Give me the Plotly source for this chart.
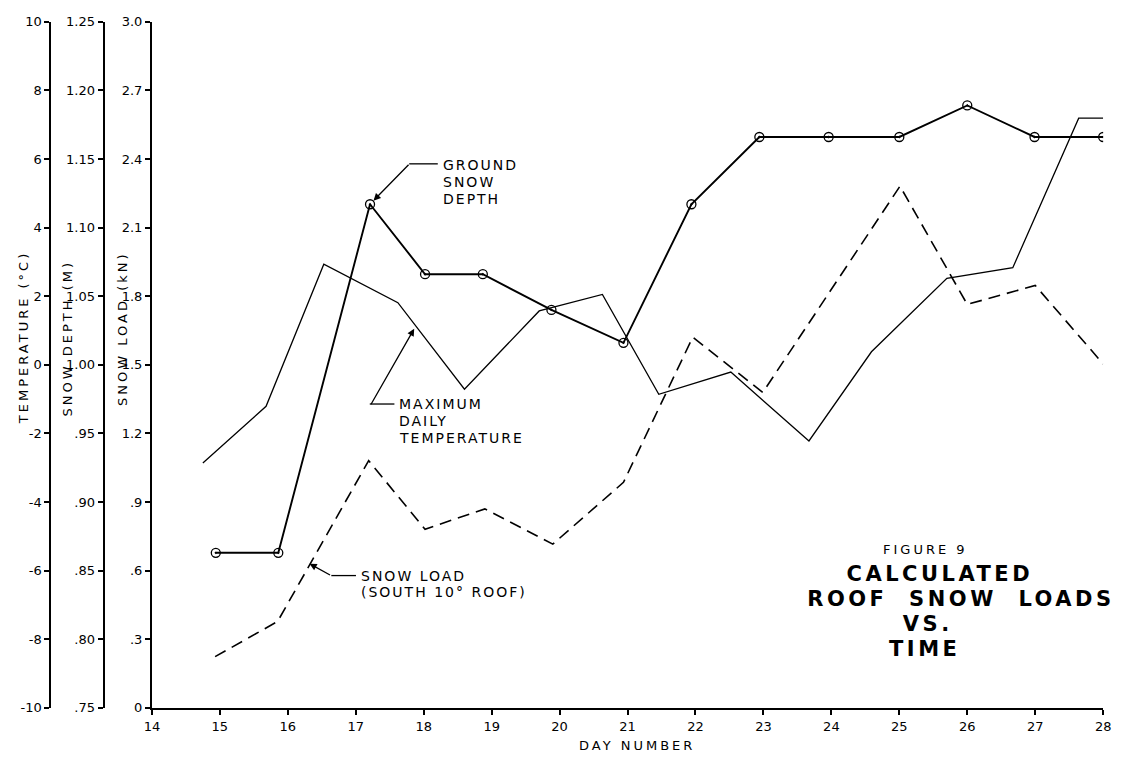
import json
import plotly.graph_objects as go

# ---- data ----
depth_days = [14.94, 15.86, 17.21, 18.02, 18.87, 19.88, 20.94, 21.94, 22.94, 23.96, 25.0, 26.0, 26.99, 28.0]
depth_m = [0.863, 0.863, 1.117, 1.066, 1.066, 1.040, 1.016, 1.117, 1.166, 1.166, 1.166, 1.189, 1.166, 1.166]

temp_days = [14.75, 15.68, 16.53, 17.62, 18.6, 19.7, 20.63, 21.46, 22.52, 23.67, 24.59, 25.7, 26.67, 27.64, 28.0]
temp_c = [-2.86, -1.21, 2.93, 1.81, -0.71, 1.57, 2.05, -0.86, -0.21, -2.22, 0.38, 2.52, 2.83, 7.19, 7.19]

load_days = [14.93, 15.85, 17.19, 18.02, 18.9, 19.9, 20.94, 21.96, 22.99, 25.01, 26.0, 27.0, 28.0]
load_kn = [0.224, 0.378, 1.081, 0.781, 0.87, 0.716, 0.986, 1.621, 1.379, 2.281, 1.764, 1.847, 1.504]

day_ticks = list(range(14, 29))
load_ticks = [0, 0.3, 0.6, 0.9, 1.2, 1.5, 1.8, 2.1, 2.4, 2.7, 3.0]
load_labels = ["0", ".3", ".6", ".9", "1.2", "1.5", "1.8", "2.1", "2.4", "2.7", "3.0"]
depth_ticks = [0.75, 0.80, 0.85, 0.90, 0.95, 1.00, 1.05, 1.10, 1.15, 1.20, 1.25]
depth_labels = [".75", ".80", ".85", ".90", ".95", "1.00", "1.05", "1.10", "1.15", "1.20", "1.25"]
temp_ticks = [-10, -8, -6, -4, -2, 0, 2, 4, 6, 8, 10]
temp_labels = ["-10", "-8", "-6", "-4", "-2", "0", "2", "4", "6", "8", "10"]

# ---- page geometry (pixels) ----
W, H = 1122, 761
PX_L, PX_R = 146, 1111      # plot area left/right
PX_T, PX_B = 15, 715        # plot area top/bottom
DEPTH_AX_X = 97
TEMP_AX_X = 43

def px(x):
    return x / W

def py(y):
    return 1 - y / H

FONT = "DejaVu Sans"
INK = "black"

fig = go.Figure()

fig.add_trace(go.Scatter(
    x=load_days, y=load_kn, xaxis="x", yaxis="y",
    mode="lines", line=dict(color=INK, width=1.6, dash="12px,7px"),
    name="Snow load", showlegend=False,
))
fig.add_trace(go.Scatter(
    x=temp_days, y=temp_c, xaxis="x", yaxis="y3",
    mode="lines", line=dict(color=INK, width=1.3),
    name="Maximum daily temperature", showlegend=False,
))
fig.add_trace(go.Scatter(
    x=depth_days, y=depth_m, xaxis="x", yaxis="y2",
    mode="lines+markers", line=dict(color=INK, width=1.9),
    marker=dict(symbol="circle-open-dot", size=9, color=INK, line=dict(width=1.3, color=INK)),
    name="Ground snow depth", showlegend=False,
))

tickfont = dict(family=FONT, size=13, color=INK)
common_axis = dict(showgrid=False, zeroline=False, showline=True, linecolor=INK,
                   linewidth=2, ticks="outside", ticklen=5, tickwidth=1.5,
                   tickcolor=INK, tickfont=tickfont, fixedrange=True,
                   ticklabeloverflow="allow")
inside_axis = dict(showgrid=False, zeroline=False, showline=False, ticks="inside",
                   ticklen=5, tickwidth=1.5, tickcolor=INK, showticklabels=False,
                   fixedrange=True)

y_dom = [py(PX_B), py(PX_T)]

fig.update_layout(
    width=W, height=H, margin=dict(l=0, r=0, t=0, b=0),
    paper_bgcolor="white", plot_bgcolor="white",
    font=dict(family=FONT, color=INK),
    xaxis=dict(domain=[px(PX_L), px(PX_R)], range=[14, 28], anchor="y",
               tickvals=day_ticks, **common_axis),
    xaxis2=dict(domain=[px(PX_L), px(PX_R)], range=[14, 28], anchor="y",
                overlaying="x", tickvals=day_ticks, **inside_axis),
    yaxis=dict(domain=y_dom, range=[0, 3], anchor="x",
               tickvals=load_ticks, ticktext=load_labels, **common_axis),
    yaxis2=dict(domain=y_dom, range=[0.75, 1.25], anchor="free", overlaying="y",
                position=px(DEPTH_AX_X), side="left",
                tickvals=depth_ticks, ticktext=depth_labels, **common_axis),
    yaxis3=dict(domain=y_dom, range=[-10, 10], anchor="free", overlaying="y",
                position=px(TEMP_AX_X), side="left",
                tickvals=temp_ticks, ticktext=temp_labels, **common_axis),
    yaxis4=dict(domain=y_dom, range=[0, 3], anchor="x", overlaying="y",
                tickvals=load_ticks, **inside_axis),
    yaxis5=dict(domain=y_dom, range=[0.75, 1.25], anchor="free", overlaying="y",
                position=px(DEPTH_AX_X), side="left", tickvals=depth_ticks, **inside_axis),
    yaxis6=dict(domain=y_dom, range=[-10, 10], anchor="free", overlaying="y",
                position=px(TEMP_AX_X), side="left", tickvals=temp_ticks[1:], **inside_axis),
)

annotations = []
tracking = {}   # letter spacing (px) per label text

def text_at(xp, yp, text, size=13, anchor="left", bold=False, angle=0, spacing=0):
    annotations.append(dict(
        x=px(xp), y=py(yp), xref="paper", yref="paper", text=text,
        showarrow=False, xanchor=anchor, yanchor="middle", textangle=angle,
        align="left" if anchor == "left" else "center",
        font=dict(family=FONT, size=size, color=INK, weight=700 if bold else 400),
    ))
    if spacing:
        tracking[text] = spacing

# axis titles
text_at(16, 337, "TEMPERATURE (°C)", size=13, anchor="center", angle=-90, spacing=3)
text_at(60, 338, "SNOW DEPTH (M)", size=13, anchor="center", angle=-90, spacing=3)
text_at(116, 328, "SNOW LOAD (kN)", size=13, anchor="center", angle=-90, spacing=3)
text_at(638, 753, "DAY NUMBER", size=13, anchor="center", spacing=3)

# curve labels
for i, line in enumerate(["GROUND", "SNOW", "DEPTH"]):
    text_at(439, 161 + 17.5 * i, line, size=14, spacing=2)
for i, line in enumerate(["MAXIMUM", "DAILY", "TEMPERATURE"]):
    text_at(395, 405 + 17.5 * i, line, size=14, spacing=2)
text_at(356, 580, "SNOW LOAD", size=14, spacing=2)
text_at(356, 597, "(SOUTH 10° ROOF)", size=14, spacing=2)

# figure caption
text_at(931, 553, "FIGURE 9", size=13, anchor="center", spacing=3)
text_at(945, 578, "CALCULATED", size=21, anchor="center", bold=True, spacing=3.5)
text_at(967, 604, "ROOF  SNOW  LOADS", size=21, anchor="center", bold=True, spacing=3.5)
text_at(933, 629, "VS.", size=21, anchor="center", bold=True, spacing=3.5)
text_at(930, 655, "TIME", size=21, anchor="center", bold=True, spacing=3.5)

# leader arrows
arrow_style = dict(showarrow=True, arrowhead=2, arrowsize=1.1, arrowwidth=1.3,
                   arrowcolor=INK, text="", axref="pixel", ayref="pixel")
annotations.append(dict(x=depth_days[2], y=depth_m[2], xref="x", yref="y2",
                        ax=40, ay=-41, standoff=5, **arrow_style))
annotations.append(dict(x=17.86, y=1.05, xref="x", yref="y3",
                        ax=-44, ay=77, standoff=0, **arrow_style))
annotations.append(dict(x=16.32, y=0.63, xref="x", yref="y",
                        ax=22, ay=12, standoff=0, **arrow_style))
fig.update_layout(annotations=annotations)

# horizontal elbows of the leaders
for x0, x1, y0 in [(407, 436, 160), (367, 392, 405), (328, 353, 580)]:
    fig.add_shape(type="line", xref="paper", yref="paper",
                  x0=px(x0), x1=px(x1), y0=py(y0), y1=py(y0),
                  line=dict(color=INK, width=1.3))

# widely tracked lettering on the labels
post = """
var tracking = %s;
document.querySelectorAll('.annotation-text').forEach(function (t) {
    var s = tracking[t.textContent];
    if (s) { t.style.letterSpacing = s + 'px'; }
});
""" % json.dumps(tracking)

fig.write_html("out.html", post_script=post)
